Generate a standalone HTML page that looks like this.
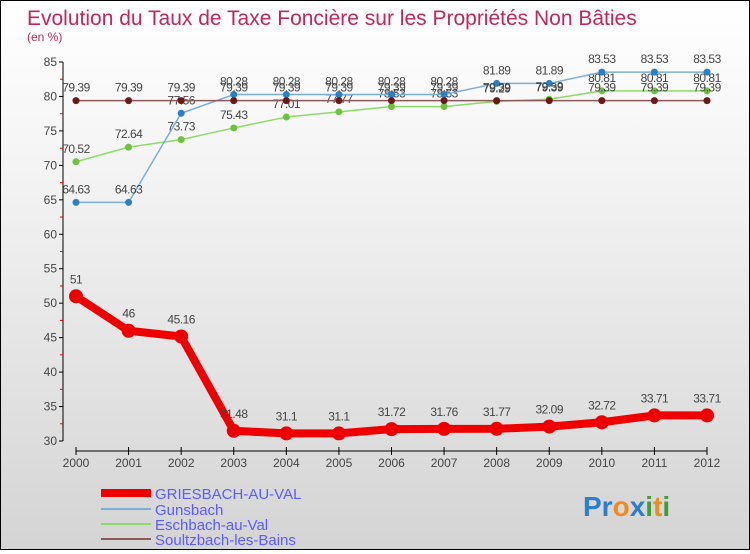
<!DOCTYPE html>
<html><head><meta charset="utf-8"><style>
html,body{margin:0;padding:0}
body{width:750px;height:550px;overflow:hidden;font-family:"Liberation Sans",sans-serif}
#wrap{position:relative;width:748px;height:548px;border:1px solid #000;background:linear-gradient(#ffffff,#f4f4f4 30%,#d4d4d4)}
</style></head><body>
<div id="wrap">
<svg id="chart" width="748" height="548" font-family="Liberation Sans, sans-serif">
<text x="26" y="24" font-size="21" fill="#c2275b">Evolution du Taux de Taxe Foncière sur les Propriétés Non Bâties</text>
<text x="26" y="40" font-size="12" fill="#c2275b">(en %)</text>
<g id="axes"></g><g id="series"></g>
<g>
<line x1="100" y1="492" x2="150" y2="492" stroke="#e00" stroke-width="8"/>
<text x="154" y="498" font-size="15" fill="#5b5bff">GRIESBACH-AU-VAL</text>
<line x1="100" y1="508" x2="150" y2="508" stroke="#7aaed6" stroke-width="2"/>
<text x="154" y="514" font-size="15" fill="#5b5bff">Gunsbach</text>
<line x1="100" y1="523" x2="150" y2="523" stroke="#8fd96a" stroke-width="2"/>
<text x="154" y="529" font-size="15" fill="#5b5bff">Eschbach-au-Val</text>
<line x1="100" y1="538" x2="150" y2="538" stroke="#8b5a5a" stroke-width="2"/>
<text x="154" y="544" font-size="15" fill="#5b5bff">Soultzbach-les-Bains</text>
</g>
<g font-size="28" font-weight="bold">
<text x="582" y="515"><tspan fill="#2a7fd4">Pr</tspan><tspan fill="#f08a1c">o</tspan><tspan fill="#2a7fd4">x</tspan><tspan fill="#3aa03a">i</tspan><tspan fill="#f08a1c">t</tspan><tspan fill="#3aa03a">i</tspan></text>
</g>
</svg></div>
<script>
const years=[2000,2001,2002,2003,2004,2005,2006,2007,2008,2009,2010,2011,2012];
const griesbach=[51,46,45.16,31.48,31.1,31.1,31.72,31.76,31.77,32.09,32.72,33.71,33.71];
const gunsbach=[64.63,64.63,77.56,80.28,80.28,80.28,80.28,80.28,81.89,81.89,83.53,83.53,83.53];
const eschbach=[70.52,72.64,73.73,75.43,77.01,77.77,78.53,78.53,79.29,79.59,80.81,80.81,80.81];
const soultzbach=[79.39,79.39,79.39,79.39,79.39,79.39,79.39,79.39,79.39,79.39,79.39,79.39,79.39];
const yTicks=[30,35,40,45,50,55,60,65,70,75,80,85];
const NS='http://www.w3.org/2000/svg';
const x=i=>75+i*(631/12);
const y=v=>440-(v-30)*(379/55);
function mk(t,a,p){const e=document.createElementNS(NS,t);for(const k in a)e.setAttribute(k,a[k]);p.appendChild(e);return e;}
const ax=document.getElementById('axes');
const yl=mk('line',{x1:62,y1:y(85),x2:62,y2:y(30),stroke:'#000'},ax);


yTicks.forEach(v=>{
 mk('line',{x1:58,y1:y(v),x2:62,y2:y(v),stroke:'#000'},ax);
 if(v<85)mk('line',{x1:59,y1:y(v+2.5),x2:62,y2:y(v+2.5),stroke:'#e00'},ax);
 const t=mk('text',{x:56,y:y(v)+4,'font-size':12,fill:'#444','text-anchor':'end'},ax);t.textContent=v;
 
 
});
const xl=mk('line',{x1:75,y1:450,x2:706,y2:450,stroke:'#000'},ax);


years.forEach((yr,i)=>{
 mk('line',{x1:x(i),y1:446,x2:x(i),y2:454,stroke:'#000'},ax);
 const t=mk('text',{x:x(i),y:466,'font-size':12,fill:'#444','text-anchor':'middle'},ax);t.textContent=yr;
 
 
});
const sg=document.getElementById('series');
function series(name,data,color,dot,w,r,dy){
 const g=mk('g',{},sg);
 
 
 mk('polyline',{points:data.map((v,i)=>x(i)+','+y(v)).join(' '),fill:'none',stroke:color,'stroke-width':w,'stroke-linejoin':'round'},g);
 data.forEach((v,i)=>{
  const c=mk('circle',{cx:x(i),cy:y(v),r:r,fill:dot},g);
  
  
  const t=mk('text',{x:x(i),y:y(v)+dy,'font-size':12,fill:'#444','text-anchor':'middle','letter-spacing':'-0.5'},g);
  t.textContent=v;
  
  
 });
}
series('eschbach',eschbach,'#8fd96a','#6cc43c',1.5,3.5,-9);
series('gunsbach',gunsbach,'#7aaed6','#2a80c8',1.5,3.5,-9);
series('soultzbach',soultzbach,'#8b5a5a','#6a1a1a',1.5,3.5,-9);
series('griesbach',griesbach,'#e00','#e00',8,7,-13);
</script>
</body></html>
